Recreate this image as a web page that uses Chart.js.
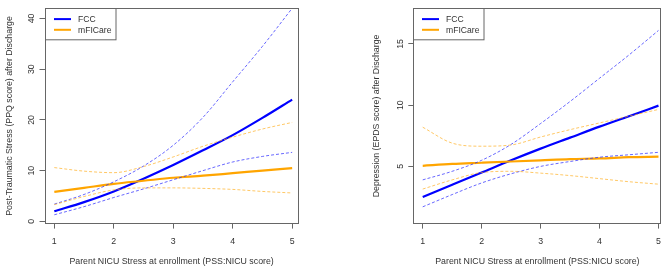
<!DOCTYPE html>
<html><head><meta charset="utf-8">
<script src="https://cdn.jsdelivr.net/npm/chart.js@4"></script>
<style>
html,body{margin:0;padding:0;background:#fff;}
#wrap{position:relative;width:669px;height:269px;overflow:hidden;}
#c1{position:absolute;left:0;top:0;}
#c2{position:absolute;left:335px;top:0;}
</style></head>
<body><div id="wrap"><canvas id="c1" width="335" height="269"></canvas><canvas id="c2" width="334" height="269"></canvas></div>
<script>
// ---- data ----
const xs = [1, 1.5, 2, 2.5, 3, 3.5, 4, 4.5, 5];
const xTicks = [1, 2, 3, 4, 5];
const seriesNames = ['FCC', 'mFICare'];

// Left panel: Post-Traumatic Stress (PPQ)
const ppqFccFit   = [2.0, 3.8, 5.9, 8.4, 11.1, 14.0, 17.0, 20.4, 24.0];
const ppqFccUpper = [3.4, 5.3, 7.8, 10.9, 15.0, 20.5, 27.5, 34.5, 42.0];
const ppqFccLower = [1.3, 2.9, 4.7, 6.4, 8.2, 10.0, 11.7, 12.8, 13.6];
const ppqMfFit    = [5.8, 6.6, 7.4, 8.0, 8.6, 9.0, 9.5, 10.0, 10.5];
const ppqMfUpper  = [10.6, 9.9, 9.6, 10.8, 12.7, 14.8, 16.6, 18.2, 19.5];
const ppqMfLower  = [3.3, 4.9, 6.2, 6.6, 6.6, 6.5, 6.3, 5.9, 5.6];
const ppqYTicks = [0, 10, 20, 30, 40];

// Right panel: Depression (EPDS)
const epdsFccFit   = [2.5, 3.5, 4.5, 5.5, 6.45, 7.35, 8.25, 9.1, 9.96];
const epdsFccUpper = [3.9, 4.6, 5.5, 6.8, 8.5, 10.3, 12.2, 14.1, 16.1];
const epdsFccLower = [1.7, 2.7, 3.65, 4.4, 5.0, 5.4, 5.75, 5.95, 6.15];
const epdsMfFit    = [5.05, 5.2, 5.3, 5.4, 5.5, 5.6, 5.65, 5.75, 5.8];
const epdsMfUpper  = [8.2, 6.9, 6.65, 6.75, 7.4, 8.0, 8.55, 9.1, 9.65];
const epdsMfLower  = [3.15, 3.9, 4.5, 4.6, 4.45, 4.25, 4.0, 3.75, 3.55];
const epdsYTicks = [5, 10, 15];

const xTitle = 'Parent NICU Stress at enrollment (PSS:NICU score)';
const ppqTitle = 'Post-Traumatic Stress (PPQ score) after Discharge';
const epdsTitle = 'Depression (EPDS score) after Discharge';

// ---- styling ----
const BLUE = '#0000ff', ORANGE = '#ffa500';
const BLUE_D = 'rgba(40,40,255,0.7)', ORANGE_D = 'rgba(255,170,20,0.65)';
const FONT = "'Liberation Sans', Arial, sans-serif";
const TXT = '#333';
const AX = '#666';
const FS = 8.8;

function pts(arr){ return xs.map((x,i)=>({x:x,y:arr[i]})); }
function ds(arr, color, width, dash){
  return {data: pts(arr), borderColor: color, borderWidth: width, borderDash: dash,
          pointRadius: 0, fill: false, cubicInterpolationMode: 'monotone'};
}

const frameLegend = {
  id: 'frameLegend',
  afterDatasetsDraw(chart){
    const a = chart.chartArea, ctx = chart.ctx;
    ctx.save();
    ctx.strokeStyle = AX; ctx.lineWidth = 1;
    const L = Math.round(a.left)+0.5, T = Math.round(a.top)+0.5;
    const R = Math.round(a.right)-0.5, B = Math.round(a.bottom)-0.5;
    ctx.strokeRect(L, T, R-L, B-T);
    // legend
    const w = 70.5, h = 31.3;
    ctx.fillStyle = '#fff';
    ctx.fillRect(L, T, w, h);
    ctx.strokeStyle = AX;
    ctx.strokeRect(L, T, w, h);
    const cols = [BLUE, ORANGE];
    const ys = [10.6, 21.3];
    ctx.font = '8.6px ' + FONT;
    ctx.textBaseline = 'middle';
    ctx.textAlign = 'left';
    seriesNames.forEach((n,i)=>{
      ctx.strokeStyle = cols[i]; ctx.lineWidth = 2;
      ctx.beginPath(); ctx.moveTo(L+8.5, T+ys[i]); ctx.lineTo(L+25.5, T+ys[i]); ctx.stroke();
      ctx.fillStyle = TXT;
      ctx.fillText(n, L+32.5, T+ys[i]+0.5);
    });
    ctx.restore();
  }
};

function makeChart(id, sets, yTicks, ymin, ymax, xmin, xmax, yTitle, yAxisW, yTitlePad, padRight){
  const d = sets;
  new Chart(document.getElementById(id), {
    type: 'line',
    data: { datasets: [
      ds(d[4], ORANGE_D, 1, [3,2]),
      ds(d[5], ORANGE_D, 1, [3,2]),
      ds(d[1], BLUE_D, 1, [3,2]),
      ds(d[2], BLUE_D, 1, [3,2]),
      ds(d[3], ORANGE, 2.2, []),
      ds(d[0], BLUE, 2.2, []),
    ]},
    options: {
      responsive: false, animation: false, events: [],
      layout: { padding: { left: 0, right: padRight, top: 2.7, bottom: 0 } },
      plugins: { legend: {display:false}, tooltip: {enabled:false}, title:{display:false} },
      scales: {
        x: {
          type: 'linear', min: xmin, max: xmax,
          afterBuildTicks: s => { s.ticks = xTicks.map(v=>({value:v})); },
          afterFit: s => { s.height = 45.4; },
          grid: { drawOnChartArea: false, drawTicks: true, tickLength: 5, color: AX, tickWidth: 1 },
          border: { display: false },
          ticks: { color: TXT, font: {family: FONT, size: FS}, padding: 8, maxRotation: 0, autoSkip: false },
          title: { display: true, text: xTitle, color: TXT, font: {family: FONT, size: FS}, padding: {top:0, bottom: 2} }
        },
        y: {
          type: 'linear', min: ymin, max: ymax,
          afterBuildTicks: s => { s.ticks = yTicks.map(v=>({value:v})); },
          afterFit: s => { s.width = yAxisW; },
          grid: { drawOnChartArea: false, drawTicks: true, tickLength: 5, color: AX, tickWidth: 1 },
          border: { display: false },
          ticks: { color: TXT, font: {family: FONT, size: FS}, padding: 3, minRotation: 90, maxRotation: 90, crossAlign: 'center', autoSkip: false },
          title: { display: true, text: yTitle, color: TXT, font: {family: FONT, size: FS}, padding: {top: yTitlePad, bottom: 0} }
        }
      }
    },
    plugins: [frameLegend]
  });
}

makeChart('c1', [ppqFccFit, ppqFccUpper, ppqFccLower, ppqMfFit, ppqMfUpper, ppqMfLower],
  ppqYTicks, -0.44, 42.0, 0.835, 5.11, ppqTitle, 44.5, 4.2, 36.3);
makeChart('c2', [epdsFccFit, epdsFccUpper, epdsFccLower, epdsMfFit, epdsMfUpper, epdsMfLower],
  epdsYTicks, 0.33, 17.91, 0.84, 5.05, epdsTitle, 78.3, 36.4, 6);
</script>
</body></html>
